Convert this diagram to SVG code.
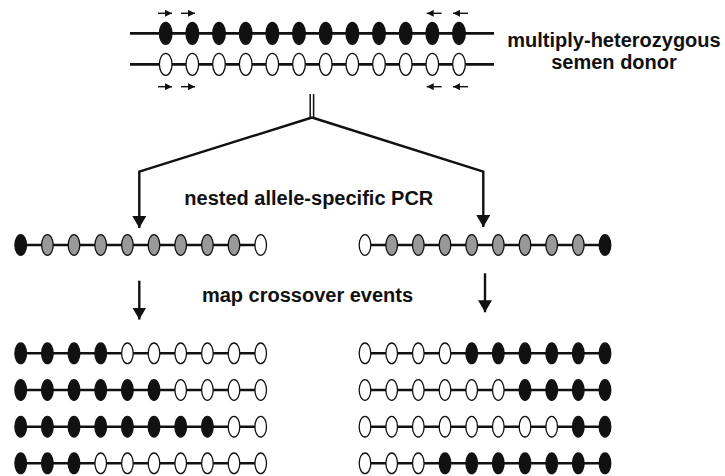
<svg xmlns="http://www.w3.org/2000/svg" width="725" height="476" viewBox="0 0 725 476">
<style>
  .bg{fill:#fff}
  .chr{stroke:#111;stroke-width:2.8;fill:none}
  .bar{stroke:#111;stroke-width:2.6;fill:none}
  .b{fill:#111;stroke:#111;stroke-width:1.3}
  .w{fill:#fff;stroke:#111;stroke-width:1.3}
  .g{fill:#999;stroke:#111;stroke-width:1.3}
  .conn{stroke:#111;stroke-width:2.4;fill:none}
  .primer{stroke:#111;stroke-width:1.4;fill:none}
  .dbl{stroke:#111;stroke-width:1.5;fill:none}
  .lbl{font-family:"Liberation Sans",Arial,sans-serif;font-weight:bold;font-size:20px;fill:#111}
</style>
<defs>
  <marker id="ah" viewBox="0 0 12 14" refX="12" refY="7" markerWidth="12" markerHeight="14" markerUnits="userSpaceOnUse" orient="auto">
    <path d="M0,0 L12,7 L0,14 Z" fill="#111"/>
  </marker>
  <marker id="ps" viewBox="0 0 7 7" refX="7" refY="3.5" markerWidth="7" markerHeight="7" markerUnits="userSpaceOnUse" orient="auto">
    <path d="M0,0 L7,3.5 L0,7 Z" fill="#111"/>
  </marker>
  <ellipse id="eT" rx="6.3" ry="11"/>
  <ellipse id="eS" rx="5.8" ry="10.3"/>
</defs>
<rect class="bg" width="725" height="476"/>

<g id="donor">
  <line class="chr" x1="130" y1="33.3" x2="494" y2="33.3"/>
  <line class="chr" x1="130" y1="64.3" x2="494" y2="64.3"/>
  <g class="b">
    <use href="#eT" x="165.7" y="33.3"/><use href="#eT" x="192.3" y="33.3"/><use href="#eT" x="219" y="33.3"/><use href="#eT" x="245.7" y="33.3"/><use href="#eT" x="272.3" y="33.3"/><use href="#eT" x="299" y="33.3"/><use href="#eT" x="325.7" y="33.3"/><use href="#eT" x="352.3" y="33.3"/><use href="#eT" x="379" y="33.3"/><use href="#eT" x="405.7" y="33.3"/><use href="#eT" x="432.3" y="33.3"/><use href="#eT" x="459" y="33.3"/>
  </g>
  <g class="w">
    <use href="#eT" x="165.7" y="64.3"/><use href="#eT" x="192.3" y="64.3"/><use href="#eT" x="219" y="64.3"/><use href="#eT" x="245.7" y="64.3"/><use href="#eT" x="272.3" y="64.3"/><use href="#eT" x="299" y="64.3"/><use href="#eT" x="325.7" y="64.3"/><use href="#eT" x="352.3" y="64.3"/><use href="#eT" x="379" y="64.3"/><use href="#eT" x="405.7" y="64.3"/><use href="#eT" x="432.3" y="64.3"/><use href="#eT" x="459" y="64.3"/>
  </g>
  <g id="primers">
    <line class="primer" x1="158" y1="13.3" x2="172" y2="13.3" marker-end="url(#ps)"/>
    <line class="primer" x1="181" y1="13.3" x2="195" y2="13.3" marker-end="url(#ps)"/>
    <line class="primer" x1="441.7" y1="13.3" x2="426.7" y2="13.3" marker-end="url(#ps)"/>
    <line class="primer" x1="468" y1="13.3" x2="453" y2="13.3" marker-end="url(#ps)"/>
    <line class="primer" x1="158" y1="86.7" x2="172" y2="86.7" marker-end="url(#ps)"/>
    <line class="primer" x1="181" y1="86.7" x2="195" y2="86.7" marker-end="url(#ps)"/>
    <line class="primer" x1="441.7" y1="86.7" x2="426.7" y2="86.7" marker-end="url(#ps)"/>
    <line class="primer" x1="468" y1="86.7" x2="453" y2="86.7" marker-end="url(#ps)"/>
  </g>
  <text class="lbl" x="614" y="47" text-anchor="middle">multiply-heterozygous</text>
  <text class="lbl" x="614" y="69" text-anchor="middle">semen donor</text>
</g>

<g id="connectors">
  <line class="dbl" x1="310.2" y1="94" x2="310.2" y2="118"/>
  <line class="dbl" x1="313.6" y1="94" x2="313.6" y2="118"/>
  <polyline class="conn" points="312,117.5 139.3,171.7 139.3,228" marker-end="url(#ah)"/>
  <polyline class="conn" points="312,117.5 483.3,171.7 483.3,227" marker-end="url(#ah)"/>
  <line class="conn" x1="139.3" y1="280.7" x2="139.3" y2="319.5" marker-end="url(#ah)"/>
  <line class="conn" x1="485" y1="273.3" x2="485" y2="312.3" marker-end="url(#ah)"/>
</g>

<g id="label-pcr"><text class="lbl" x="308.8" y="205" text-anchor="middle">nested allele-specific PCR</text></g>
<g id="label-map"><text class="lbl" x="307.5" y="302" text-anchor="middle">map crossover events</text></g>

<g id="pcr-left">
  <line class="bar" x1="20.7" y1="245" x2="260.7" y2="245"/>
  <use class="b" href="#eS" x="20.7" y="245"/>
  <g class="g"><use href="#eS" x="47.4" y="245"/><use href="#eS" x="74" y="245"/><use href="#eS" x="100.7" y="245"/><use href="#eS" x="127.4" y="245"/><use href="#eS" x="154" y="245"/><use href="#eS" x="180.7" y="245"/><use href="#eS" x="207.4" y="245"/><use href="#eS" x="234" y="245"/></g>
  <use class="w" href="#eS" x="260.7" y="245"/>
</g>
<g id="pcr-right">
  <line class="bar" x1="365" y1="245" x2="605" y2="245"/>
  <use class="w" href="#eS" x="365" y="245"/>
  <g class="g"><use href="#eS" x="391.7" y="245"/><use href="#eS" x="418.3" y="245"/><use href="#eS" x="445" y="245"/><use href="#eS" x="471.7" y="245"/><use href="#eS" x="498.3" y="245"/><use href="#eS" x="525" y="245"/><use href="#eS" x="551.7" y="245"/><use href="#eS" x="578.3" y="245"/></g>
  <use class="b" href="#eS" x="605" y="245"/>
</g>

<g id="left-r1">
  <line class="bar" x1="20.7" y1="353.3" x2="260.7" y2="353.3"/>
  <g class="b"><use href="#eS" x="20.7" y="353.3"/><use href="#eS" x="47.4" y="353.3"/><use href="#eS" x="74" y="353.3"/><use href="#eS" x="100.7" y="353.3"/></g>
  <g class="w"><use href="#eS" x="127.4" y="353.3"/><use href="#eS" x="154" y="353.3"/><use href="#eS" x="180.7" y="353.3"/><use href="#eS" x="207.4" y="353.3"/><use href="#eS" x="234" y="353.3"/><use href="#eS" x="260.7" y="353.3"/></g>
</g>
<g id="left-r2">
  <line class="bar" x1="20.7" y1="390" x2="260.7" y2="390"/>
  <g class="b"><use href="#eS" x="20.7" y="390"/><use href="#eS" x="47.4" y="390"/><use href="#eS" x="74" y="390"/><use href="#eS" x="100.7" y="390"/><use href="#eS" x="127.4" y="390"/><use href="#eS" x="154" y="390"/></g>
  <g class="w"><use href="#eS" x="180.7" y="390"/><use href="#eS" x="207.4" y="390"/><use href="#eS" x="234" y="390"/><use href="#eS" x="260.7" y="390"/></g>
</g>
<g id="left-r3">
  <line class="bar" x1="20.7" y1="426.7" x2="260.7" y2="426.7"/>
  <g class="b"><use href="#eS" x="20.7" y="426.7"/><use href="#eS" x="47.4" y="426.7"/><use href="#eS" x="74" y="426.7"/><use href="#eS" x="100.7" y="426.7"/><use href="#eS" x="127.4" y="426.7"/><use href="#eS" x="154" y="426.7"/><use href="#eS" x="180.7" y="426.7"/><use href="#eS" x="207.4" y="426.7"/></g>
  <g class="w"><use href="#eS" x="234" y="426.7"/><use href="#eS" x="260.7" y="426.7"/></g>
</g>
<g id="left-r4">
  <line class="bar" x1="20.7" y1="463.3" x2="260.7" y2="463.3"/>
  <g class="b"><use href="#eS" x="20.7" y="463.3"/><use href="#eS" x="47.4" y="463.3"/><use href="#eS" x="74" y="463.3"/></g>
  <g class="w"><use href="#eS" x="100.7" y="463.3"/><use href="#eS" x="127.4" y="463.3"/><use href="#eS" x="154" y="463.3"/><use href="#eS" x="180.7" y="463.3"/><use href="#eS" x="207.4" y="463.3"/><use href="#eS" x="234" y="463.3"/><use href="#eS" x="260.7" y="463.3"/></g>
</g>

<g id="right-r1">
  <line class="bar" x1="365" y1="353.3" x2="605" y2="353.3"/>
  <g class="w"><use href="#eS" x="365" y="353.3"/><use href="#eS" x="391.7" y="353.3"/><use href="#eS" x="418.3" y="353.3"/><use href="#eS" x="445" y="353.3"/></g>
  <g class="b"><use href="#eS" x="471.7" y="353.3"/><use href="#eS" x="498.3" y="353.3"/><use href="#eS" x="525" y="353.3"/><use href="#eS" x="551.7" y="353.3"/><use href="#eS" x="578.3" y="353.3"/><use href="#eS" x="605" y="353.3"/></g>
</g>
<g id="right-r2">
  <line class="bar" x1="365" y1="390" x2="605" y2="390"/>
  <g class="w"><use href="#eS" x="365" y="390"/><use href="#eS" x="391.7" y="390"/><use href="#eS" x="418.3" y="390"/><use href="#eS" x="445" y="390"/><use href="#eS" x="471.7" y="390"/><use href="#eS" x="498.3" y="390"/></g>
  <g class="b"><use href="#eS" x="525" y="390"/><use href="#eS" x="551.7" y="390"/><use href="#eS" x="578.3" y="390"/><use href="#eS" x="605" y="390"/></g>
</g>
<g id="right-r3">
  <line class="bar" x1="365" y1="426.7" x2="605" y2="426.7"/>
  <g class="w"><use href="#eS" x="365" y="426.7"/><use href="#eS" x="391.7" y="426.7"/><use href="#eS" x="418.3" y="426.7"/><use href="#eS" x="445" y="426.7"/><use href="#eS" x="471.7" y="426.7"/><use href="#eS" x="498.3" y="426.7"/><use href="#eS" x="525" y="426.7"/><use href="#eS" x="551.7" y="426.7"/></g>
  <g class="b"><use href="#eS" x="578.3" y="426.7"/><use href="#eS" x="605" y="426.7"/></g>
</g>
<g id="right-r4">
  <line class="bar" x1="365" y1="463.3" x2="605" y2="463.3"/>
  <g class="w"><use href="#eS" x="365" y="463.3"/><use href="#eS" x="391.7" y="463.3"/><use href="#eS" x="418.3" y="463.3"/></g>
  <g class="b"><use href="#eS" x="445" y="463.3"/><use href="#eS" x="471.7" y="463.3"/><use href="#eS" x="498.3" y="463.3"/><use href="#eS" x="525" y="463.3"/><use href="#eS" x="551.7" y="463.3"/><use href="#eS" x="578.3" y="463.3"/><use href="#eS" x="605" y="463.3"/></g>
</g>
</svg>
